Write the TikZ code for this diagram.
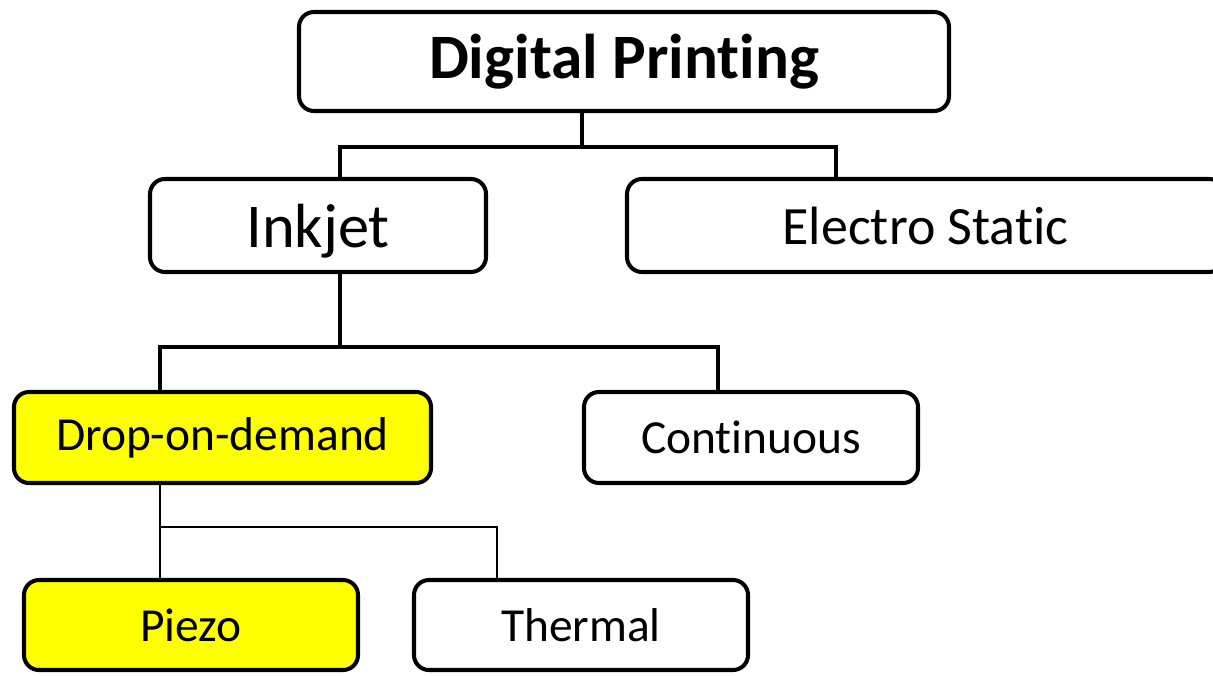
\documentclass[tikz,border=0pt]{standalone}
\usepackage{fontspec}
\setmainfont{Carlito}[Ligatures={NoCommon}]
\usepackage{xcolor}
\usepackage{tikz}
\usetikzlibrary{shapes.geometric, arrows, fit}
\definecolor{customYellow}{HTML}{FFFF00}
\definecolor{customBlack}{HTML}{000000}

\begin{document}
\begin{tikzpicture} [
    boxNode/.style={rectangle, rounded corners=0.3cm, draw=customBlack, fill=white, line width=2.3pt, inner sep=0pt, minimum height=1.86cm},
    highlight/.style={fill=customYellow},
    link/.style={line width=2.3pt, color=customBlack},
    thinLink/.style={line width=1.1pt, color=customBlack}
]
    \useasboundingbox (0, 0) rectangle (24.26, 13.5);
    % boxes
    \node[boxNode, minimum width=13cm, minimum height=1.98cm] (DP) at (12.48, 12.27) {\fontsize{36}{40}\selectfont\bfseries Digital Printing};
    \node[boxNode, minimum width=6.72cm, text depth=0pt] (Inkjet) at (6.36, 8.99) {\fontsize{35.5}{40}\selectfont Inkjet};
    \node[boxNode, minimum width=11.94cm] (ES) at (18.51, 8.99) {\fontsize{30.7}{36}\selectfont Electro Static};
    \node[boxNode, highlight, minimum width=8.34cm, minimum height=1.82cm] (DoD) at (4.45, 4.75) {\fontsize{27}{32}\selectfont Drop-on-demand};
    \node[boxNode, minimum width=6.68cm, minimum height=1.82cm] (Cont) at (15.02, 4.75) {\fontsize{27}{32}\selectfont Continuous};
    \node[boxNode, highlight, minimum width=6.68cm, minimum height=1.8cm] (Piezo) at (3.82, 1.0) {\fontsize{27}{32}\selectfont Piezo};
    \node[boxNode, minimum width=6.68cm, minimum height=1.8cm] (Thermal) at (11.62, 1.0) {\fontsize{27}{32}\selectfont Thermal};

    % junction points
    \coordinate (dpJ) at (11.64, 10.56);
    \coordinate (inkJ) at (6.8, 10.56);
    \coordinate (esJ) at (16.72, 10.56);
    \coordinate (inkDown) at (6.8, 6.56);
    \coordinate (dodJ) at (3.2, 6.56);
    \coordinate (contJ) at (14.36, 6.56);
    \coordinate (dodDown) at (3.2, 2.96);
    \coordinate (thermJ) at (9.94, 2.96);

    \draw [link] (DP.south -| dpJ) -- (dpJ);
    \draw [link] (Inkjet.north -| inkJ) -- (inkJ) -- (esJ) -- (ES.north -| esJ);
    \draw [link] (Inkjet.south -| inkDown) -- (inkDown);
    \draw [link] (DoD.north -| dodJ) -- (dodJ) -- (contJ) -- (Cont.north -| contJ);
    \draw [thinLink] (DoD.south -| dodDown) -- (Piezo.north -| dodDown);
    \draw [thinLink] (dodDown) -- (thermJ) -- (Thermal.north -| thermJ);
\end{tikzpicture}
\end{document}
